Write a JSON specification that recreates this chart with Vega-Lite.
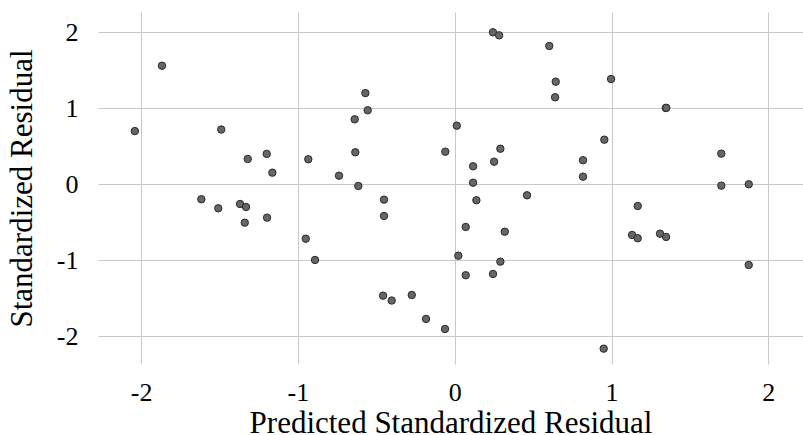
{
  "$schema": "https://vega.github.io/schema/vega-lite/v6.json",
  "width": 705,
  "height": 352,
  "autosize": "none",
  "padding": {"left": 98, "top": 12, "right": 0, "bottom": 71},
  "background": "white",
  "config": {
    "view": {"stroke": null},
    "font": "Liberation Serif",
    "axis": {
      "domain": false,
      "ticks": false,
      "tickSize": 0,
      "gridColor": "#c8c8c8",
      "gridWidth": 1,
      "labelFont": "Liberation Serif",
      "labelFontSize": 26,
      "labelColor": "#000000",
      "titleFont": "Liberation Serif",
      "titleFontSize": 31,
      "titleFontWeight": "normal",
      "titleColor": "#000000"
    }
  },
  "data": {
    "values": [
      {"pred": -1.867, "resid": 1.56},
      {"pred": -2.04, "resid": 0.70},
      {"pred": -1.489, "resid": 0.72},
      {"pred": -1.32, "resid": 0.333},
      {"pred": -1.199, "resid": 0.40},
      {"pred": -1.163, "resid": 0.153},
      {"pred": -0.570, "resid": 1.20},
      {"pred": -0.555, "resid": 0.974},
      {"pred": -0.638, "resid": 0.855},
      {"pred": -0.634, "resid": 0.421},
      {"pred": -0.934, "resid": 0.329},
      {"pred": -0.738, "resid": 0.113},
      {"pred": -0.615, "resid": -0.022},
      {"pred": -0.060, "resid": 0.429},
      {"pred": 0.013, "resid": 0.771},
      {"pred": 0.244, "resid": 2.0},
      {"pred": 0.283, "resid": 1.96},
      {"pred": 0.603, "resid": 1.82},
      {"pred": 0.644, "resid": 1.35},
      {"pred": 0.640, "resid": 1.145},
      {"pred": 0.997, "resid": 1.385},
      {"pred": 0.954, "resid": 0.587},
      {"pred": 0.291, "resid": 0.468},
      {"pred": 0.251, "resid": 0.297},
      {"pred": 0.117, "resid": 0.237},
      {"pred": 0.117, "resid": 0.021},
      {"pred": 0.818, "resid": 0.316},
      {"pred": 0.818, "resid": 0.10},
      {"pred": 1.346, "resid": 1.004},
      {"pred": 1.349, "resid": 1.006},
      {"pred": 1.70, "resid": 0.403},
      {"pred": 1.70, "resid": -0.018},
      {"pred": 1.875, "resid": 0.0},
      {"pred": -1.616, "resid": -0.197},
      {"pred": -1.508, "resid": -0.316},
      {"pred": -1.369, "resid": -0.259},
      {"pred": -1.331, "resid": -0.299},
      {"pred": -1.339, "resid": -0.505},
      {"pred": -1.197, "resid": -0.439},
      {"pred": -0.451, "resid": -0.202},
      {"pred": -0.451, "resid": -0.417},
      {"pred": -0.950, "resid": -0.716},
      {"pred": -0.891, "resid": -0.996},
      {"pred": -0.457, "resid": -1.466},
      {"pred": -0.402, "resid": -1.53},
      {"pred": -0.274, "resid": -1.457},
      {"pred": -0.183, "resid": -1.772},
      {"pred": -0.062, "resid": -1.904},
      {"pred": 0.023, "resid": -0.94},
      {"pred": 0.138, "resid": -0.21},
      {"pred": 0.461, "resid": -0.145},
      {"pred": 0.070, "resid": -0.562},
      {"pred": 0.319, "resid": -0.624},
      {"pred": 0.291, "resid": -1.018},
      {"pred": 0.070, "resid": -1.197},
      {"pred": 0.244, "resid": -1.18},
      {"pred": 0.950, "resid": -2.163},
      {"pred": 1.167, "resid": -0.286},
      {"pred": 1.131, "resid": -0.667},
      {"pred": 1.167, "resid": -0.71},
      {"pred": 1.309, "resid": -0.65},
      {"pred": 1.348, "resid": -0.693},
      {"pred": 1.875, "resid": -1.062}
    ]
  },
  "mark": {"type": "point", "filled": true, "shape": "circle", "size": 55, "fill": "#666666", "stroke": "#2a2a2a", "strokeWidth": 1, "opacity": 1, "fillOpacity": 1, "strokeOpacity": 1},
  "encoding": {
    "x": {
      "field": "pred",
      "type": "quantitative",
      "scale": {"domain": [-2.275, 2.221], "nice": false, "zero": false},
      "axis": {"values": [-2, -1, 0, 1, 2], "title": "Predicted Standardized Residual", "labelExpr": "datum.value < 0 ? '-' + abs(datum.value) : '' + datum.value", "labelPadding": 15, "titlePadding": 3, "labelFlush": false}
    },
    "y": {
      "field": "resid",
      "type": "quantitative",
      "scale": {"domain": [-2.365, 2.267], "nice": false, "zero": false},
      "axis": {"values": [-2, -1, 0, 1, 2], "title": "Standardized Residual", "labelExpr": "datum.value < 0 ? '-' + abs(datum.value) : '' + datum.value", "labelPadding": 20, "titlePadding": 18, "labelFlush": false}
    }
  }
}
